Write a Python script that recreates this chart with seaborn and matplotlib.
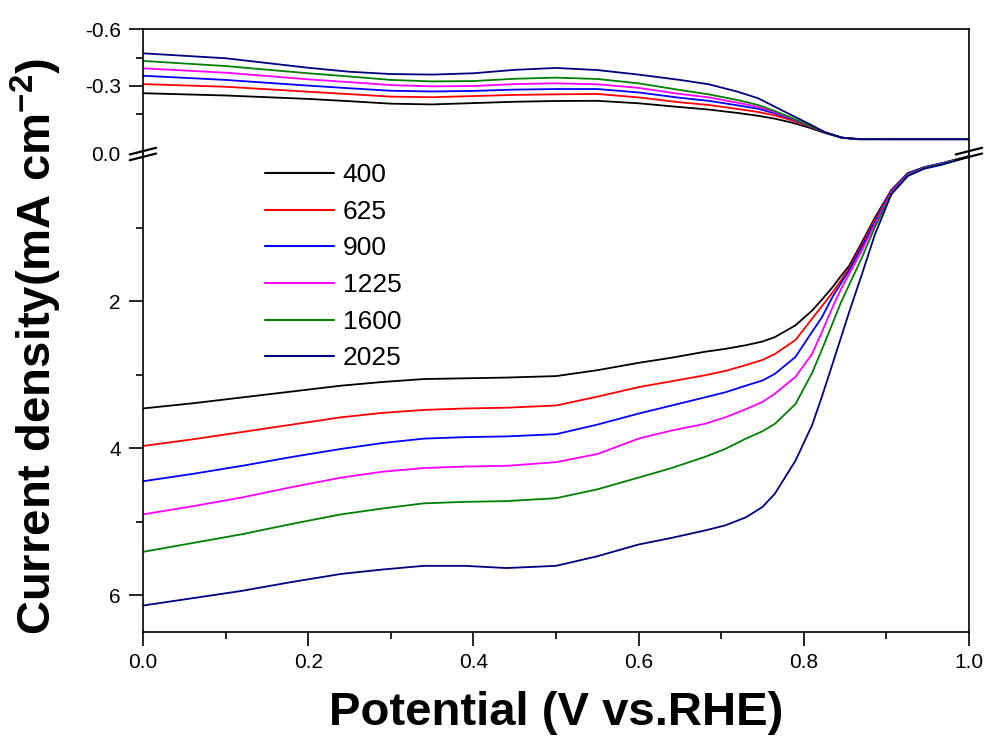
import numpy as np
import pandas as pd
import seaborn as sns
import matplotlib.pyplot as plt
from matplotlib.ticker import MultipleLocator, FixedLocator

speeds = ['400', '625', '900', '1225', '1600', '2025']
colors = ['#000000', '#ff0000', '#0000ff', '#ff00ff', '#008000', '#000080']

# ring current (upper segment)
x_top = [0, 0.1, 0.2, 0.25, 0.3, 0.35, 0.4, 0.45, 0.5, 0.55, 0.6, 0.65, 0.685, 0.72, 0.745,
         0.765, 0.785, 0.805, 0.826, 0.846, 0.866, 0.9, 1.0]
top_400 = [-0.262, -0.25, -0.232, -0.22, -0.207, -0.203, -0.21, -0.217, -0.221, -0.222, -0.209, -0.189,
           -0.176, -0.158, -0.143, -0.128, -0.108, -0.083, -0.052, -0.028, -0.021, -0.02, -0.02]
top_625 = [-0.31, -0.296, -0.27, -0.257, -0.244, -0.241, -0.247, -0.253, -0.256, -0.258, -0.24, -0.214,
           -0.2, -0.179, -0.163, -0.145, -0.12, -0.09, -0.055, -0.028, -0.02, -0.02, -0.02]
top_900 = [-0.354, -0.332, -0.302, -0.288, -0.275, -0.271, -0.274, -0.281, -0.284, -0.284, -0.266, -0.238,
           -0.222, -0.198, -0.18, -0.156, -0.127, -0.093, -0.056, -0.028, -0.02, -0.02, -0.02]
top_1225 = [-0.393, -0.37, -0.335, -0.32, -0.305, -0.298, -0.3, -0.31, -0.314, -0.309, -0.29, -0.258,
            -0.24, -0.212, -0.19, -0.162, -0.13, -0.094, -0.056, -0.028, -0.02, -0.02, -0.02]
top_1600 = [-0.432, -0.405, -0.367, -0.35, -0.332, -0.324, -0.326, -0.338, -0.344, -0.337, -0.314, -0.279,
            -0.256, -0.226, -0.2, -0.168, -0.133, -0.095, -0.056, -0.028, -0.02, -0.02, -0.02]
top_2025 = [-0.472, -0.446, -0.396, -0.375, -0.363, -0.36, -0.367, -0.385, -0.395, -0.384, -0.36, -0.332,
            -0.309, -0.27, -0.235, -0.191, -0.147, -0.104, -0.056, -0.028, -0.02, -0.02, -0.02]

# disk current (lower segment)
x_bot = [0, 0.06, 0.12, 0.18, 0.24, 0.29, 0.34, 0.39, 0.44, 0.5, 0.55, 0.6, 0.64, 0.68, 0.705, 0.73,
         0.75, 0.765, 0.79, 0.81, 0.822, 0.835, 0.845, 0.855, 0.87, 0.886, 0.906, 0.926, 0.946, 0.966, 1.0]
bot_400 = [3.46, 3.39, 3.31, 3.23, 3.15, 3.10, 3.06, 3.05, 3.04, 3.02, 2.94, 2.84, 2.77, 2.69, 2.65, 2.60,
           2.55, 2.49, 2.33, 2.13, 1.98, 1.81, 1.66, 1.52, 1.21, 0.87, 0.49, 0.26, 0.18, 0.13, 0.03]
bot_625 = [3.97, 3.88, 3.78, 3.68, 3.58, 3.52, 3.48, 3.46, 3.45, 3.42, 3.30, 3.17, 3.09, 3.01, 2.95, 2.87,
           2.80, 2.72, 2.53, 2.24, 2.07, 1.88, 1.72, 1.55, 1.24, 0.90, 0.50, 0.27, 0.18, 0.13, 0.03]
bot_900 = [4.45, 4.35, 4.24, 4.12, 4.01, 3.93, 3.87, 3.85, 3.84, 3.81, 3.68, 3.53, 3.42, 3.31, 3.24, 3.15,
           3.08, 2.99, 2.76, 2.42, 2.22, 1.94, 1.76, 1.58, 1.27, 0.93, 0.51, 0.27, 0.18, 0.13, 0.03]
bot_1225 = [4.90, 4.79, 4.67, 4.53, 4.40, 4.32, 4.27, 4.25, 4.24, 4.19, 4.08, 3.87, 3.76, 3.67, 3.58, 3.47,
            3.37, 3.26, 3.03, 2.72, 2.42, 2.08, 1.84, 1.63, 1.32, 0.96, 0.52, 0.28, 0.19, 0.14, 0.03]
bot_1600 = [5.41, 5.29, 5.17, 5.03, 4.90, 4.82, 4.75, 4.73, 4.72, 4.68, 4.56, 4.40, 4.27, 4.12, 4.01, 3.87,
            3.77, 3.67, 3.40, 2.98, 2.66, 2.30, 2.02, 1.78, 1.42, 1.00, 0.54, 0.29, 0.19, 0.14, 0.03]
bot_2025 = [6.14, 6.04, 5.94, 5.82, 5.71, 5.65, 5.60, 5.60, 5.63, 5.60, 5.47, 5.31, 5.22, 5.12, 5.05, 4.94,
            4.80, 4.62, 4.17, 3.69, 3.30, 2.85, 2.50, 2.15, 1.65, 1.10, 0.55, 0.30, 0.20, 0.15, 0.04]

top_vals = [top_400, top_625, top_900, top_1225, top_1600, top_2025]
bot_vals = [bot_400, bot_625, bot_900, bot_1225, bot_1600, bot_2025]

top_df = pd.concat([pd.DataFrame({'E': x_top, 'j': v, 'rpm': s}) for s, v in zip(speeds, top_vals)])
bot_df = pd.concat([pd.DataFrame({'E': x_bot, 'j': v, 'rpm': s}) for s, v in zip(speeds, bot_vals)])
pal = dict(zip(speeds, colors))

sns.set_theme(style='ticks')
plt.rcParams['font.family'] = ['Liberation Sans', 'DejaVu Sans']
plt.rcParams['mathtext.fontset'] = 'custom'
plt.rcParams['mathtext.rm'] = 'Liberation Sans'
plt.rcParams['mathtext.bf'] = 'Liberation Sans:bold'
for k in ('text.color', 'axes.labelcolor', 'xtick.color', 'ytick.color', 'axes.edgecolor'):
    plt.rcParams[k] = 'black'

fig = plt.figure(figsize=(9.9, 7.4), dpi=100)
ax_top = fig.add_axes([0.1444, 0.7919, 0.8343, 0.1689])
ax_bot = fig.add_axes([0.1444, 0.1459, 0.8343, 0.6460])

sns.lineplot(data=top_df, x='E', y='j', hue='rpm', palette=pal, sort=False,
             estimator=None, linewidth=1.3, legend=False, ax=ax_top)
sns.lineplot(data=bot_df, x='E', y='j', hue='rpm', palette=pal, sort=False,
             estimator=None, linewidth=1.3, ax=ax_bot)

lw = 1.2
for ax in (ax_top, ax_bot):
    ax.set_xlim(0, 1.0)
    for sp in ax.spines.values():
        sp.set_linewidth(lw)
    ax.tick_params(which='major', direction='out', length=10, width=lw, labelsize=15, pad=6)
    ax.tick_params(which='minor', direction='out', length=5, width=lw)
    ax.set_xlabel('')
    ax.set_ylabel('')

ax_top.set_ylim(0.058, -0.6)
ax_top.spines['bottom'].set_visible(False)
ax_top.tick_params(axis='x', which='both', bottom=False, labelbottom=False)
ax_top.yaxis.set_major_locator(FixedLocator([-0.6, -0.3]))
ax_top.set_yticklabels(['-0.6', '-0.3'])
ax_top.yaxis.set_minor_locator(FixedLocator([-0.45, -0.15]))

ax_bot.set_ylim(6.5, 0)
ax_bot.spines['top'].set_visible(False)
ax_bot.set_yticks([0, 2, 4, 6])
ax_bot.set_yticklabels(['0.0', '2', '4', '6'])
ax_bot.yaxis.set_minor_locator(FixedLocator([1, 3, 5]))
ax_bot.set_xticks([0, 0.2, 0.4, 0.6, 0.8, 1.0])
ax_bot.set_xticklabels(['0.0', '0.2', '0.4', '0.6', '0.8', '1.0'])
ax_bot.xaxis.set_minor_locator(MultipleLocator(0.1))
ax_bot.tick_params(axis='x', which='major', pad=5)
ax_bot.yaxis.get_major_ticks()[0].tick1line.set_visible(False)

# axis break marks
for xb in (0.0, 1.0):
    for dy in (-0.006, 0.006):
        ax_bot.plot([xb - 0.016, xb + 0.016], [0.993 + dy, 1.007 + dy], transform=ax_bot.transAxes,
                    color='black', lw=1.6, clip_on=False)

leg = ax_bot.legend(title=None, loc='upper left', bbox_to_anchor=(0.135, 1.003), frameon=False,
                    fontsize=19, handlelength=2.6, handletextpad=0.35, labelspacing=0.48,
                    borderaxespad=0)
for h in leg.get_lines():
    h.set_linewidth(1.5)

ax_bot.set_xlabel('Potential (V vs.RHE)', fontsize=34, fontweight='bold', labelpad=14)
fig.text(0.037, 0.532, r'Current density(mA cm$^{\mathbf{-2}}$)', rotation=90, fontsize=34,
         fontweight='bold', ha='center', va='center')

fig.savefig('out.png', dpi=100, facecolor='white')
